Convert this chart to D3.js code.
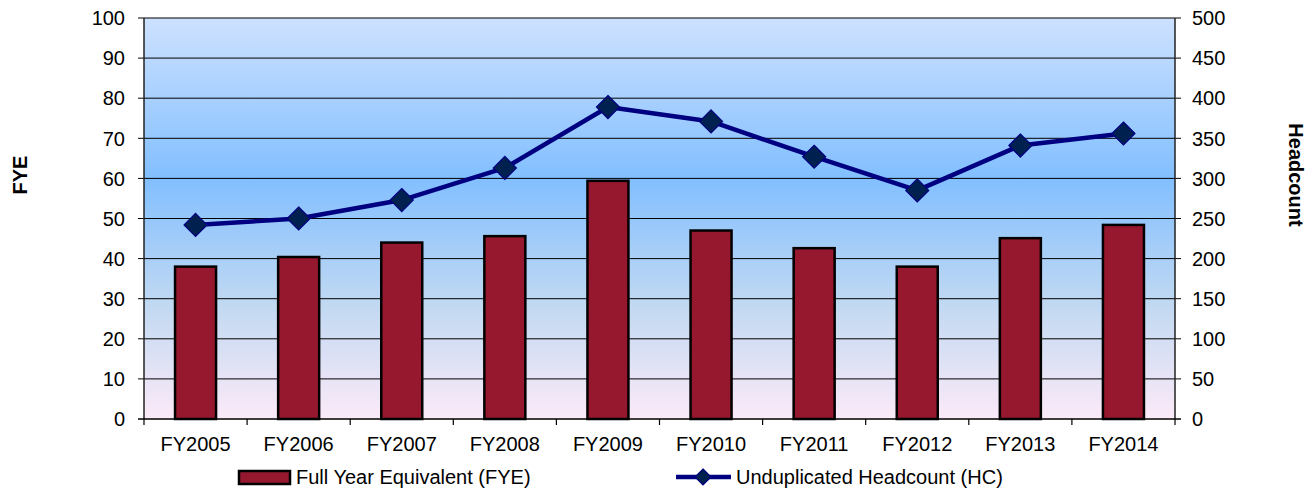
<!DOCTYPE html>
<html>
<head>
<meta charset="utf-8">
<script src="https://cdn.jsdelivr.net/npm/d3@7"></script>
<style>
  html, body { margin: 0; padding: 0; background: #fff; }
  svg { display: block; font-family: "Liberation Sans", Arial, sans-serif; }
</style>
</head>
<body>
<svg id="chart" width="1316" height="491"></svg>
<script>
// Fiscal years on the category axis
const years = ["FY2005", "FY2006", "FY2007", "FY2008", "FY2009",
               "FY2010", "FY2011", "FY2012", "FY2013", "FY2014"];
// Full Year Equivalent (left axis, bars)
const fyeValues = [38.0, 40.4, 44.0, 45.6, 59.4, 47.0, 42.6, 38.0, 45.1, 48.4];
// Unduplicated headcount (right axis, line)
const hcValues = [242, 250, 273, 313, 389, 371, 327, 285, 341, 356];
// Axis tick values
const leftTicks = [0, 10, 20, 30, 40, 50, 60, 70, 80, 90, 100];
const rightTicks = [0, 50, 100, 150, 200, 250, 300, 350, 400, 450, 500];

const svg = d3.select("#chart");
const plot = { left: 144, right: 1175, top: 18, bottom: 419 };

const x = d3.scaleBand().domain(years).range([plot.left, plot.right]).padding(0);
const yL = d3.scaleLinear().domain([0, 100]).range([plot.bottom, plot.top]);
const yR = d3.scaleLinear().domain([0, 500]).range([plot.bottom, plot.top]);

// Plot-area background gradient
const defs = svg.append("defs");
const grad = defs.append("linearGradient")
  .attr("id", "bg").attr("x1", 0).attr("y1", 0).attr("x2", 0).attr("y2", 1);
grad.append("stop").attr("offset", "0%").attr("stop-color", "#cde1ff");
grad.append("stop").attr("offset", "40%").attr("stop-color", "#82bfff");
grad.append("stop").attr("offset", "72%").attr("stop-color", "#c2d9f2");
grad.append("stop").attr("offset", "100%").attr("stop-color", "#fceaf8");

svg.append("rect")
  .attr("x", plot.left).attr("y", plot.top)
  .attr("width", plot.right - plot.left).attr("height", plot.bottom - plot.top)
  .attr("fill", "url(#bg)");

// Horizontal gridlines with outward ticks on both sides
svg.append("g").selectAll("line").data(leftTicks.slice(1)).join("line")
  .attr("x1", plot.left - 6).attr("x2", plot.right + 6)
  .attr("y1", d => yL(d)).attr("y2", d => yL(d))
  .attr("stroke", "#000").attr("stroke-width", 1);

// Left axis labels
svg.append("g").selectAll("text").data(leftTicks).join("text")
  .attr("x", 125).attr("y", d => yL(d))
  .attr("dy", "0.36em").attr("text-anchor", "end")
  .attr("font-size", 20).attr("fill", "#000")
  .text(d => d);

// Right axis labels
svg.append("g").selectAll("text").data(rightTicks).join("text")
  .attr("x", 1192).attr("y", d => yR(d))
  .attr("dy", "0.36em").attr("text-anchor", "start")
  .attr("font-size", 20).attr("fill", "#000")
  .text(d => d);

// Vertical axis lines
svg.append("line")
  .attr("x1", plot.left).attr("x2", plot.left)
  .attr("y1", plot.top).attr("y2", plot.bottom)
  .attr("stroke", "#222").attr("stroke-width", 1.5);
svg.append("line")
  .attr("x1", plot.right).attr("x2", plot.right)
  .attr("y1", plot.top).attr("y2", plot.bottom)
  .attr("stroke", "#222").attr("stroke-width", 1.5);

// Bars
const barW = 41;
svg.append("g").selectAll("rect").data(years).join("rect")
  .attr("x", d => x(d) + x.bandwidth() / 2 - barW / 2)
  .attr("width", barW)
  .attr("y", (d, i) => yL(fyeValues[i]))
  .attr("height", (d, i) => yL(0) - yL(fyeValues[i]))
  .attr("fill", "#96182f")
  .attr("stroke", "#000").attr("stroke-width", 2.5);

// Category axis with ticks at band boundaries
svg.append("line")
  .attr("x1", plot.left - 6).attr("x2", plot.right + 6)
  .attr("y1", plot.bottom).attr("y2", plot.bottom)
  .attr("stroke", "#000").attr("stroke-width", 1.5);
const bounds = years.map(d => x(d)).concat([plot.right]);
svg.append("g").selectAll("line").data(bounds).join("line")
  .attr("x1", d => d).attr("x2", d => d)
  .attr("y1", plot.bottom).attr("y2", plot.bottom + 6)
  .attr("stroke", "#000").attr("stroke-width", 1.2);
svg.append("g").selectAll("text").data(years).join("text")
  .attr("x", d => x(d) + x.bandwidth() / 2)
  .attr("y", 451)
  .attr("text-anchor", "middle")
  .attr("font-size", 20).attr("fill", "#000")
  .text(d => d);

// Headcount line
const line = d3.line()
  .x((d, i) => x(years[i]) + x.bandwidth() / 2)
  .y(d => yR(d));
svg.append("path")
  .datum(hcValues)
  .attr("d", line)
  .attr("fill", "none")
  .attr("stroke", "#000080").attr("stroke-width", 4.5)
  .attr("stroke-linejoin", "round");

// Diamond markers
const diamond = d3.symbol().type(d3.symbolDiamond2).size(2 * 13 * 13);
svg.append("g").selectAll("path").data(hcValues).join("path")
  .attr("transform", (d, i) => `translate(${x(years[i]) + x.bandwidth() / 2},${yR(d)})`)
  .attr("d", diamond)
  .attr("fill", "#00204f")
  .attr("stroke", "#000080").attr("stroke-width", 1.2);

// Axis titles
svg.append("text")
  .attr("transform", "translate(27,175) rotate(-90)")
  .attr("text-anchor", "middle")
  .attr("font-size", 20).attr("font-weight", "bold")
  .text("FYE");
svg.append("text")
  .attr("transform", "translate(1289,175) rotate(90)")
  .attr("text-anchor", "middle")
  .attr("font-size", 20).attr("font-weight", "bold")
  .text("Headcount");

// Legend
const legend = svg.append("g");
legend.append("rect")
  .attr("x", 239).attr("y", 471).attr("width", 51).attr("height", 13)
  .attr("fill", "#96182f").attr("stroke", "#000").attr("stroke-width", 2.5);
legend.append("text")
  .attr("x", 296).attr("y", 484)
  .attr("font-size", 20).text("Full Year Equivalent (FYE)");
legend.append("line")
  .attr("x1", 676).attr("x2", 731).attr("y1", 477).attr("y2", 477)
  .attr("stroke", "#000080").attr("stroke-width", 4.5);
legend.append("path")
  .attr("transform", "translate(703,477)")
  .attr("d", d3.symbol().type(d3.symbolDiamond2).size(2 * 9 * 9))
  .attr("fill", "#00204f").attr("stroke", "#000080").attr("stroke-width", 1.2);
legend.append("text")
  .attr("x", 736).attr("y", 484)
  .attr("font-size", 20).text("Unduplicated Headcount (HC)");
</script>
</body>
</html>
